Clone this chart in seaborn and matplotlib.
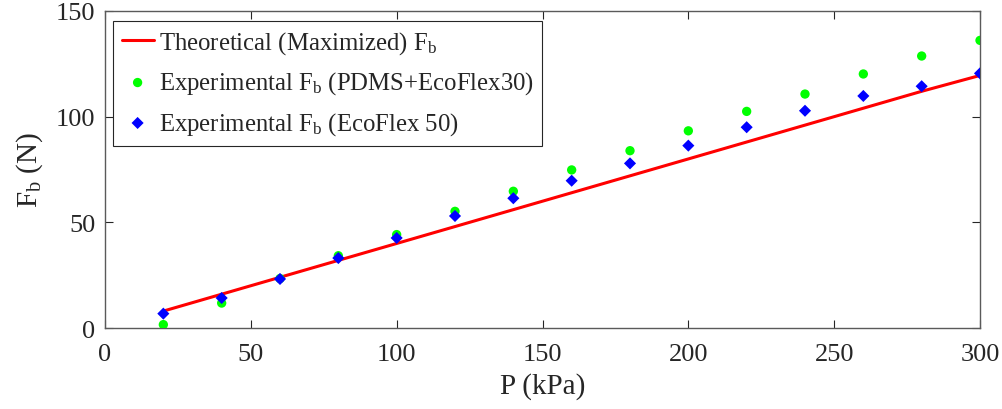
import matplotlib
matplotlib.use("Agg")
import matplotlib.pyplot as plt
import seaborn as sns
import pandas as pd

# Data
pressure = [20, 40, 60, 80, 100, 120, 140, 160, 180, 200, 220, 240, 260, 280, 300]
theoretical = [8, 16, 24, 32, 40, 48, 56, 64, 72, 80, 88, 96, 104, 112, 119.5]
exp_pdms = [1.6, 11.8, 23.4, 34.2, 44.2, 55.2, 64.7, 74.8, 83.9, 93.3, 102.5, 110.7, 120.2, 128.7, 136.1]
exp_eco50 = [6.8, 14.2, 23.2, 33.1, 42.6, 53.0, 61.4, 69.7, 77.9, 86.3, 95.0, 102.8, 109.8, 114.4, 120.5]

labels = ["Theoretical (Maximized) F$_\\mathrm{b}$",
          "Experimental F$_\\mathrm{b}$ (PDMS+EcoFlex30)",
          "Experimental F$_\\mathrm{b}$ (EcoFlex 50)"]
x_ticks = [0, 50, 100, 150, 200, 250, 300]
y_ticks = [0, 50, 100, 150]

sns.set_style("ticks")
plt.rcParams['font.family'] = ['Liberation Serif', 'DejaVu Serif']
plt.rcParams['mathtext.fontset'] = 'custom'
plt.rcParams['mathtext.rm'] = 'Liberation Serif'
plt.rcParams['mathtext.it'] = 'Liberation Serif:italic'
plt.rcParams['mathtext.bf'] = 'Liberation Serif:bold'

df = pd.DataFrame({"P": pressure, "theo": theoretical, "pdms": exp_pdms, "eco": exp_eco50})

fig = plt.figure(figsize=(10.03, 4.10), dpi=100)
ax = fig.add_axes([105/1003, 1 - 329/410, 875/1003, 317/410])

sns.lineplot(data=df, x="P", y="theo", ax=ax, color="#ff0000", linewidth=2.2, label=labels[0])
sns.scatterplot(data=df, x="P", y="pdms", ax=ax, color="#00ff00", marker="o", s=45,
                edgecolor="none", label=labels[1], zorder=3)
sns.scatterplot(data=df, x="P", y="eco", ax=ax, color="#0000ff", marker="D", s=38,
                edgecolor="none", label=labels[2], zorder=4)

ax.set_xlim(0, 300)
ax.set_ylim(0, 150)
ax.set_xticks(x_ticks)
ax.set_yticks(y_ticks)
ax.set_xlabel("P (kPa)", fontsize=21, color="#262626", labelpad=5)
ax.set_ylabel("F$_\\mathrm{b}$ (N)", fontsize=21, color="#262626", labelpad=8)
ax.tick_params(direction="in", which="both", top=True, right=True, length=6,
               labelsize=19, colors="#262626", width=0.8)
ax.tick_params(axis="x", pad=11)
ax.tick_params(axis="y", pad=7)
for sp in ax.spines.values():
    sp.set_visible(True)
    sp.set_color("#5a5a5a")
    sp.set_linewidth(1.0)

leg = ax.legend(loc="upper left", bbox_to_anchor=(0.009, 0.97), fontsize=17.8,
                frameon=True, fancybox=False, framealpha=1, edgecolor="#262626",
                handlelength=1.3, handletextpad=0.2, borderpad=0.35, labelspacing=0.55,
                borderaxespad=0)
leg.get_frame().set_linewidth(0.8)

fig.savefig("out.png", dpi=100)
